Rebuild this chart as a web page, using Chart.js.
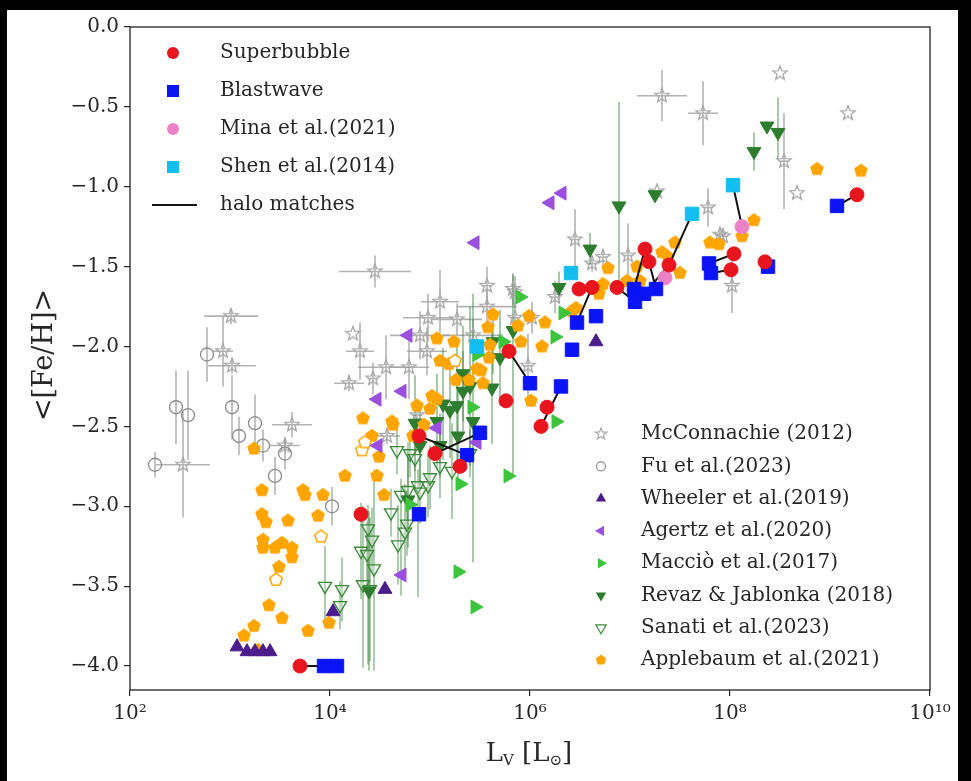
<!DOCTYPE html>
<html>
<head>
<meta charset="utf-8">
<script src="https://cdn.jsdelivr.net/npm/chart.js@4.4.1/dist/chart.umd.min.js"></script>
<style>
html, body { margin: 0; padding: 0; background: #000; width: 971px; height: 781px; overflow: hidden; }
#wrap { position: absolute; left: 7px; top: 10px; width: 951px; height: 771px; background: #fff; }
</style>
</head>
<body>
<div id="wrap"><canvas id="chart" width="951" height="771"></canvas></div>
<script>
// x values are log10(L_V / L_sun), y values are <[Fe/H]>

const sbX = [3.70, 4.31, 4.89, 5.05, 5.30, 5.79, 5.76, 6.11, 6.17, 6.49, 6.62, 6.87, 7.15, 7.19, 7.39, 8.04, 8.01, 8.35, 9.27];
const sbY = [-4.00, -3.05, -2.56, -2.67, -2.75, -2.03, -2.34, -2.50, -2.38, -1.64, -1.63, -1.63, -1.39, -1.47, -1.49, -1.42, -1.52, -1.47, -1.05];

const bwX = [3.94, 4.07, 4.89, 5.37, 5.50, 6.00, 6.31, 6.42, 6.47, 6.66, 7.04, 7.05, 7.14, 7.26, 7.79, 7.81, 8.38, 9.07];
const bwY = [-4.00, -4.00, -3.05, -2.68, -2.54, -2.23, -2.25, -2.02, -1.85, -1.81, -1.64, -1.72, -1.67, -1.64, -1.48, -1.54, -1.50, -1.12];

const minaX = [8.12, 7.35];
const minaY = [-1.25, -1.57];

const shenX = [8.03, 7.62, 6.41, 5.47];
const shenY = [-0.99, -1.17, -1.54, -2.00];

// halo matches: [x1, y1, x2, y2]
const haloPairs = [
  [3.70, -4.00, 3.94, -4.00],
  [4.89, -2.56, 5.37, -2.68],
  [5.05, -2.67, 5.50, -2.54],
  [5.79, -2.03, 6.00, -2.23],
  [6.11, -2.50, 6.31, -2.25],
  [6.62, -1.63, 6.47, -1.85],
  [7.15, -1.39, 7.04, -1.64],
  [7.19, -1.47, 7.26, -1.64],
  [6.87, -1.63, 7.05, -1.72],
  [7.62, -1.17, 7.39, -1.49],
  [7.39, -1.49, 7.14, -1.67],
  [8.03, -0.99, 8.12, -1.25],
  [8.04, -1.42, 7.79, -1.48],
  [8.01, -1.52, 7.81, -1.54],
  [9.27, -1.05, 9.07, -1.12]
];

const mcX = [3.01, 2.93, 3.02, 2.53, 3.62, 3.55, 4.45, 4.23, 4.30, 4.43, 4.19, 4.56, 4.79, 4.90, 4.97, 4.87, 4.57, 5.57, 5.85, 5.10, 4.98, 5.27, 5.57, 5.98, 5.43, 6.45, 7.32, 7.27, 6.62, 6.73, 6.98, 7.78, 7.90, 8.02, 5.83, 5.85, 6.02, 6.25, 8.50, 9.18, 8.54, 8.67, 7.73, 7.93];
const mcY = [-1.81, -2.03, -2.12, -2.74, -2.49, -2.62, -1.53, -1.92, -2.03, -2.20, -2.23, -2.13, -2.13, -1.93, -2.03, -2.43, -2.56, -1.62, -1.66, -1.72, -1.82, -1.83, -1.75, -2.12, -1.93, -1.33, -0.43, -1.03, -1.48, -1.44, -1.43, -1.13, -1.30, -1.62, -1.64, -1.82, -1.82, -1.69, -0.29, -0.54, -0.84, -1.04, -0.54, -1.31];
const mcXErr = [0.27, 0.10, 0.24, 0.27, 0.20, 0.15, 0.36, 0, 0.14, 0.05, 0.15, 0.28, 0.20, 0.30, 0.20, 0.05, 0.13, 0.05, 0.05, 0.19, 0.25, 0.25, 0.30, 0.05, 0.30, 0.05, 0.25, 0, 0.05, 0.05, 0.05, 0.05, 0.05, 0.05, 0.05, 0.05, 0.05, 0.05, 0, 0, 0.05, 0, 0.15, 0.05];
const mcYErr = [0.05, 0.22, 0.05, 0.33, 0.08, 0.05, 0.10, 0, 0.18, 0.10, 0.05, 0.20, 0.20, 0.15, 0.15, 0.10, 0.05, 0.12, 0.10, 0.20, 0.15, 0.10, 0.10, 0.20, 0.10, 0.19, 0.16, 0, 0.05, 0.05, 0.20, 0.12, 0.05, 0.17, 0.10, 0.10, 0.10, 0.10, 0, 0, 0.30, 0, 0.20, 0.05];

const fuX = [2.77, 2.46, 2.58, 2.25, 3.02, 3.09, 3.25, 3.33, 3.45, 4.02, 3.55];
const fuY = [-2.05, -2.38, -2.43, -2.74, -2.38, -2.56, -2.48, -2.62, -2.81, -3.00, -2.67];
const fuYErr = [0.17, 0.23, 0.28, 0.08, 0.20, 0.12, 0.18, 0.10, 0.12, 0.12, 0.10];

const whX = [3.07, 3.17, 3.25, 3.33, 3.40, 4.03, 4.55, 6.66];
const whY = [-3.88, -3.91, -3.91, -3.91, -3.91, -3.66, -3.52, -1.97];

const agX = [4.47, 4.48, 4.72, 4.78, 5.07, 5.47, 5.45, 6.20, 6.32, 4.72];
const agY = [-2.33, -2.62, -2.28, -1.93, -2.51, -2.60, -1.35, -1.10, -1.04, -3.43];

const maX = [5.30, 5.78, 5.28, 5.45, 4.80, 5.90, 6.33, 6.25, 5.73, 5.47, 5.42, 6.26];
const maY = [-2.86, -2.81, -3.41, -3.63, -2.99, -1.69, -1.79, -1.94, -1.97, -2.05, -2.38, -2.47];

const rjX = [8.37, 8.48, 8.24, 6.89, 6.60, 7.25, 6.29, 5.13, 5.20, 5.27, 5.33, 5.40, 5.62, 5.43, 5.28, 5.07, 5.10, 5.33, 5.70, 5.63, 5.83, 4.85, 4.90, 4.78, 4.39];
const rjY = [-0.62, -0.66, -0.78, -1.12, -1.39, -1.05, -1.63, -2.36, -2.40, -2.37, -2.28, -2.25, -2.26, -2.47, -2.56, -2.47, -2.62, -2.17, -2.07, -1.97, -1.90, -2.48, -2.62, -2.96, -3.53];
const rjYLo = [0.03, 0.17, 0.12, 0.52, 0.10, 0.03, 0.10, 0.35, 0.30, 0.40, 0.25, 0.50, 0.35, 0.88, 0.30, 0.30, 0.20, 0.30, 0.30, 0.20, 0.90, 0.30, 0.25, 0.30, 0.50];
const rjYHi = [0.03, 0.22, 0.12, 0.65, 0.10, 0.03, 0.10, 0.35, 0.30, 0.40, 0.25, 0.50, 0.35, 0.80, 0.30, 0.30, 0.20, 0.30, 0.30, 0.20, 0.35, 0.30, 0.25, 0.30, 0.50];

const saX = [4.38, 4.42, 4.31, 4.37, 4.44, 4.33, 4.40, 4.61, 4.68, 4.75, 4.77, 4.71, 4.78, 4.88, 4.98, 4.90, 4.12, 4.10, 3.95, 4.67, 4.80, 5.10, 5.22, 5.00, 5.40, 4.85];
const saY = [-3.14, -3.21, -3.28, -3.30, -3.39, -3.49, -3.52, -3.04, -3.24, -3.16, -3.11, -2.93, -2.90, -2.87, -2.87, -2.91, -3.52, -3.62, -3.50, -2.65, -2.67, -2.75, -2.78, -2.82, -2.67, -2.70];
const saYLo = [0.85, 0.20, 0.30, 0.20, 0.64, 0.52, 0.45, 0.15, 0.25, 0.30, 0.20, 0.63, 0.30, 0.70, 0.20, 0.20, 0.20, 0.15, 0.24, 0.15, 0.15, 0.20, 0.30, 0.20, 0.15, 0.20];
const saYHi = [0.15, 0.20, 0.30, 0.20, 0.62, 0.49, 0.45, 0.15, 0.25, 0.30, 0.20, 0.10, 0.30, 0.10, 0.20, 0.20, 0.20, 0.15, 0.25, 0.15, 0.15, 0.20, 0.30, 0.20, 0.15, 0.20];

const apX = [4.15, 3.32, 3.73, 3.75, 3.93, 3.32, 3.36, 3.58, 3.88, 3.33, 3.33, 3.45, 3.52, 3.62, 3.62, 3.49, 3.39, 3.52, 3.24, 3.14, 3.78, 3.99, 3.28, 4.54, 4.47, 4.49, 3.24, 4.33, 4.62, 4.42, 5.63, 5.58, 5.99, 6.15, 5.88, 5.07, 5.24, 5.60, 5.91, 6.12, 5.10, 5.19, 5.59, 5.47, 5.51, 5.26, 5.39, 5.53, 6.01, 5.02, 5.07, 4.87, 5.00, 4.63, 4.94, 4.83, 6.78, 6.73, 6.69, 6.46, 6.42, 7.45, 7.32, 7.38, 7.07, 7.50, 6.97, 7.10, 7.80, 7.89, 8.12, 8.24, 8.87, 9.31];
const apY = [-2.81, -2.90, -2.90, -2.93, -2.93, -3.05, -3.10, -3.09, -3.06, -3.21, -3.26, -3.26, -3.23, -3.26, -3.32, -3.38, -3.62, -3.70, -3.75, -3.81, -3.78, -3.73, -3.90, -2.93, -2.81, -2.69, -2.64, -2.45, -2.47, -2.56, -1.80, -1.88, -1.81, -1.85, -1.87, -1.95, -1.97, -1.99, -1.97, -2.00, -2.09, -2.11, -2.07, -2.14, -2.15, -2.21, -2.21, -2.23, -2.34, -2.31, -2.33, -2.37, -2.39, -2.49, -2.49, -2.56, -1.51, -1.61, -1.67, -1.76, -1.78, -1.35, -1.41, -1.44, -1.50, -1.54, -1.59, -1.59, -1.35, -1.36, -1.31, -1.21, -0.89, -0.90];
const apOpenX = [3.46, 3.91, 4.32, 4.35, 5.25];
const apOpenY = [-3.46, -3.19, -2.65, -2.60, -2.09];

const xTickExp = [2, 4, 6, 8, 10];
const yTicks = [0, -0.5, -1.0, -1.5, -2.0, -2.5, -3.0, -3.5, -4.0];

const FONT = "'DejaVu Serif', 'Liberation Serif', serif";
const GREY = '#a8a8a8';
const INK = '#262626';

function pts(xs, ys) {
  return xs.map((v, i) => ({ x: Math.pow(10, v), y: ys[i] }));
}

// marker shapes
function starPath(c, x, y, R) {
  const r = R * 0.42;
  c.beginPath();
  for (let k = 0; k < 10; k++) {
    const a = -Math.PI / 2 + k * Math.PI / 5;
    const rr = k % 2 === 0 ? R : r;
    const px = x + rr * Math.cos(a), py = y + rr * Math.sin(a);
    if (k === 0) c.moveTo(px, py); else c.lineTo(px, py);
  }
  c.closePath();
}
function pentPath(c, x, y, R) {
  c.beginPath();
  for (let k = 0; k < 5; k++) {
    const a = -Math.PI / 2 + k * 2 * Math.PI / 5;
    const px = x + R * Math.cos(a), py = y + R * Math.sin(a);
    if (k === 0) c.moveTo(px, py); else c.lineTo(px, py);
  }
  c.closePath();
}
function triPath(c, x, y, r, rot) {
  c.beginPath();
  for (let k = 0; k < 3; k++) {
    const a = (rot - 90 + k * 120) * Math.PI / 180;
    const px = x + r * Math.cos(a), py = y + r * Math.sin(a);
    if (k === 0) c.moveTo(px, py); else c.lineTo(px, py);
  }
  c.closePath();
}
function makeImg(size, fn) {
  const cv = document.createElement('canvas');
  cv.width = size; cv.height = size;
  fn(cv.getContext('2d'), size / 2);
  return cv;
}
const starImg = makeImg(20, (c, m) => { starPath(c, m, m, 7.5); c.strokeStyle = GREY; c.lineWidth = 1.3; c.stroke(); });
const pentImg = makeImg(18, (c, m) => { pentPath(c, m, m, 7.2); c.fillStyle = '#ffa500'; c.fill(); });
const pentOpenImg = makeImg(18, (c, m) => { pentPath(c, m, m, 6.6); c.fillStyle = '#fff'; c.fill(); c.strokeStyle = '#ffa500'; c.lineWidth = 1.5; c.stroke(); });

const datasets = [
  { label: 'McConnachie (2012)', data: pts(mcX, mcY), pointStyle: starImg, order: 30,
    xErr: mcXErr, yLo: mcYErr, yHi: mcYErr, errColor: 'rgba(160,160,160,0.8)' },
  { label: 'Fu et al.(2023)', data: pts(fuX, fuY), pointStyle: 'circle', radius: 6.5, order: 29,
    backgroundColor: 'rgba(255,255,255,0)', borderColor: '#8c8c8c', borderWidth: 1.3,
    yLo: fuYErr, yHi: fuYErr, errColor: 'rgba(160,160,160,0.8)' },
  { label: 'Sanati et al.(2023)', data: pts(saX, saY), pointStyle: 'triangle', rotation: 180, radius: 7.5, order: 22,
    backgroundColor: 'rgba(255,255,255,0.25)', borderColor: '#3b8b3b', borderWidth: 1.4,
    yLo: saYLo, yHi: saYHi, errColor: 'rgba(70,140,70,0.55)' },
  { label: 'Revaz & Jablonka (2018)', data: pts(rjX, rjY), pointStyle: 'triangle', rotation: 180, radius: 8, order: 21,
    backgroundColor: '#2e7d2e', borderColor: '#2e7d2e', borderWidth: 1,
    yLo: rjYLo, yHi: rjYHi, errColor: 'rgba(60,130,60,0.55)' },
  { label: 'Applebaum et al.(2021)', data: pts(apX, apY), pointStyle: pentImg, order: 20 },
  { label: 'Applebaum open', data: pts(apOpenX, apOpenY), pointStyle: pentOpenImg, order: 19 },
  { label: 'Macciò et al.(2017)', data: pts(maX, maY), pointStyle: 'triangle', rotation: 90, radius: 8, order: 18,
    backgroundColor: '#3cc43c', borderColor: '#3cc43c', borderWidth: 1 },
  { label: 'Agertz et al.(2020)', data: pts(agX, agY), pointStyle: 'triangle', rotation: 270, radius: 8, order: 17,
    backgroundColor: '#9a4fde', borderColor: '#9a4fde', borderWidth: 1 },
  { label: 'Wheeler et al.(2019)', data: pts(whX, whY), pointStyle: 'triangle', rotation: 0, radius: 8, order: 16,
    backgroundColor: '#4b1c8c', borderColor: '#4b1c8c', borderWidth: 1 }
];

haloPairs.forEach((p, i) => {
  datasets.push({
    label: 'halo' + i, data: [{ x: Math.pow(10, p[0]), y: p[1] }, { x: Math.pow(10, p[2]), y: p[3] }],
    showLine: true, borderColor: '#111', borderWidth: 2, pointRadius: 0, order: 10
  });
});

datasets.push(
  { label: 'Mina et al.(2021)', data: pts(minaX, minaY), pointStyle: 'circle', radius: 7, order: 4,
    backgroundColor: '#ec82c6', borderColor: '#ec82c6' },
  { label: 'Shen et al.(2014)', data: pts(shenX, shenY), pointStyle: 'rect', radius: 9.5, order: 3,
    backgroundColor: '#12bdf0', borderColor: '#12bdf0' },
  { label: 'Blastwave', data: pts(bwX, bwY), pointStyle: 'rect', radius: 9.5, order: 2,
    backgroundColor: '#0a14f5', borderColor: '#0a14f5' },
  { label: 'Superbubble', data: pts(sbX, sbY), pointStyle: 'circle', radius: 7, order: 1,
    backgroundColor: '#e8141e', borderColor: '#e8141e' }
);

datasets.forEach(d => {
  if (d.radius !== undefined) { d.pointRadius = d.radius; delete d.radius; }
  if (d.rotation !== undefined) { d.pointRotation = d.rotation; delete d.rotation; }
  d.pointHoverRadius = d.pointRadius;
});

function legendMarker(c, kind, x, y, color) {
  c.save();
  c.fillStyle = color; c.strokeStyle = color;
  if (kind === 'circle') { c.beginPath(); c.arc(x, y, 6, 0, 2 * Math.PI); c.fill(); }
  else if (kind === 'square') { c.fillRect(x - 6, y - 6, 12, 12); }
  else if (kind === 'line') { c.lineWidth = 2; c.beginPath(); c.moveTo(x - 21, y); c.lineTo(x + 24, y); c.stroke(); }
  else if (kind === 'star') { starPath(c, x, y, 6); c.lineWidth = 1.2; c.stroke(); }
  else if (kind === 'open') { c.lineWidth = 1.2; c.beginPath(); c.arc(x, y, 4.5, 0, 2 * Math.PI); c.stroke(); }
  else if (kind === 'pent') { pentPath(c, x, y, 5.5); c.fill(); }
  else if (kind === 'opentri') { triPath(c, x, y, 6, 180); c.lineWidth = 1.2; c.stroke(); }
  else { triPath(c, x, y, 6, kind); c.fill(); }
  c.restore();
}

const legendTop = [
  ['circle', '#e8141e', 'Superbubble'],
  ['square', '#0a14f5', 'Blastwave'],
  ['circle', '#ec82c6', 'Mina et al.(2021)'],
  ['square', '#12bdf0', 'Shen et al.(2014)'],
  ['line', '#111', 'halo matches']
];
const legendBottom = [
  ['star', GREY, 'McConnachie (2012)'],
  ['open', '#8c8c8c', 'Fu et al.(2023)'],
  [0, '#4b1c8c', 'Wheeler et al.(2019)'],
  [270, '#9a4fde', 'Agertz et al.(2020)'],
  [90, '#3cc43c', 'Macciò et al.(2017)'],
  [180, '#2e7d2e', 'Revaz & Jablonka (2018)'],
  ['opentri', '#3b8b3b', 'Sanati et al.(2023)'],
  ['pent', '#ffa500', 'Applebaum et al.(2021)']
];

const extras = {
  id: 'extras',
  beforeDatasetsDraw(chart) {
    const { ctx, chartArea: a, scales: { x, y } } = chart;
    ctx.save();
    ctx.beginPath(); ctx.rect(a.left, a.top, a.right - a.left, a.bottom - a.top); ctx.clip();
    chart.data.datasets.forEach(ds => {
      if (!ds.yLo) return;
      ctx.strokeStyle = ds.errColor; ctx.lineWidth = 1.6;
      ds.data.forEach((p, i) => {
        const lx = Math.log10(p.x);
        const px = x.getPixelForValue(p.x), py = y.getPixelForValue(p.y);
        ctx.beginPath();
        if (ds.yLo[i] || ds.yHi[i]) {
          ctx.moveTo(px, y.getPixelForValue(p.y - ds.yLo[i]));
          ctx.lineTo(px, y.getPixelForValue(p.y + ds.yHi[i]));
        }
        if (ds.xErr && ds.xErr[i]) {
          ctx.moveTo(x.getPixelForValue(Math.pow(10, lx - ds.xErr[i])), py);
          ctx.lineTo(x.getPixelForValue(Math.pow(10, lx + ds.xErr[i])), py);
        }
        ctx.stroke();
      });
    });
    ctx.restore();
  },
  afterDraw(chart) {
    const { ctx, chartArea: a } = chart;
    ctx.save();
    ctx.strokeStyle = '#222'; ctx.lineWidth = 1.3;
    ctx.strokeRect(a.left, a.top, a.right - a.left, a.bottom - a.top);

    // legends
    ctx.font = '20px ' + FONT; ctx.fillStyle = INK; ctx.textBaseline = 'middle';
    legendTop.forEach((e, i) => {
      const ly = 43 + i * 38;
      legendMarker(ctx, e[0], 166, ly, e[1]);
      ctx.fillText(e[2], 213, ly);
    });
    legendBottom.forEach((e, i) => {
      const ly = 424 + i * 32.3;
      legendMarker(ctx, e[0], 594, ly, e[1]);
      ctx.fillText(e[2], 634, ly);
    });

    // y title
    ctx.save();
    ctx.translate(38, 345); ctx.rotate(-Math.PI / 2);
    ctx.font = '27px ' + FONT; ctx.textAlign = 'center';
    ctx.fillText('<[Fe/H]>', 0, 0);
    ctx.restore();

    // x title: L_V [L_sun]
    const parts = [['L', 26, 0], ['V', 15, 7], [' [L', 26, 0], ['\u2299', 15, 7], [']', 26, 0]];
    let w = 0;
    parts.forEach(p => { ctx.font = p[1] + 'px ' + FONT; w += ctx.measureText(p[0]).width; });
    let cx = 522 - w / 2;
    ctx.textAlign = 'left';
    parts.forEach(p => {
      ctx.font = p[1] + 'px ' + FONT;
      ctx.fillText(p[0], cx, 744 + p[2]);
      cx += ctx.measureText(p[0]).width;
    });
    ctx.restore();
  }
};

const sup = { '0': '\u2070', '1': '\u00b9', '2': '\u00b2', '4': '\u2074', '6': '\u2076', '8': '\u2078' };

new Chart(document.getElementById('chart'), {
  type: 'scatter',
  data: { datasets: datasets },
  options: {
    responsive: false,
    animation: false,
    layout: { padding: { top: 10, right: 28, left: 0, bottom: 0 } },
    plugins: { legend: { display: false }, tooltip: { enabled: false } },
    scales: {
      x: {
        type: 'logarithmic', min: 1e2, max: 1e10,
        afterBuildTicks: s => { s.ticks = xTickExp.map(e => ({ value: Math.pow(10, e) })); },
        afterFit: s => { s.height = 91; },
        border: { display: false },
        grid: { drawOnChartArea: false, drawTicks: true, tickLength: 6, color: '#222', lineWidth: 1.2 },
        ticks: {
          color: INK, padding: 6, maxRotation: 0, autoSkip: false,
          font: { family: FONT, size: 20 },
          callback: v => '10' + String(Math.round(Math.log10(v))).split('').map(ch => sup[ch]).join('')
        }
      },
      y: {
        min: -4.15, max: 0,
        afterBuildTicks: s => { s.ticks = yTicks.map(v => ({ value: v })); },
        afterFit: s => { s.width = 123; },
        border: { display: false },
        grid: { drawOnChartArea: false, drawTicks: true, tickLength: 6, color: '#222', lineWidth: 1.2 },
        ticks: {
          color: INK, padding: 5, autoSkip: false,
          font: { family: FONT, size: 20 },
          callback: v => (v === 0 ? '0.0' : '\u2212' + Math.abs(v).toFixed(1))
        }
      }
    }
  },
  plugins: [extras]
});
</script>
</body>
</html>
